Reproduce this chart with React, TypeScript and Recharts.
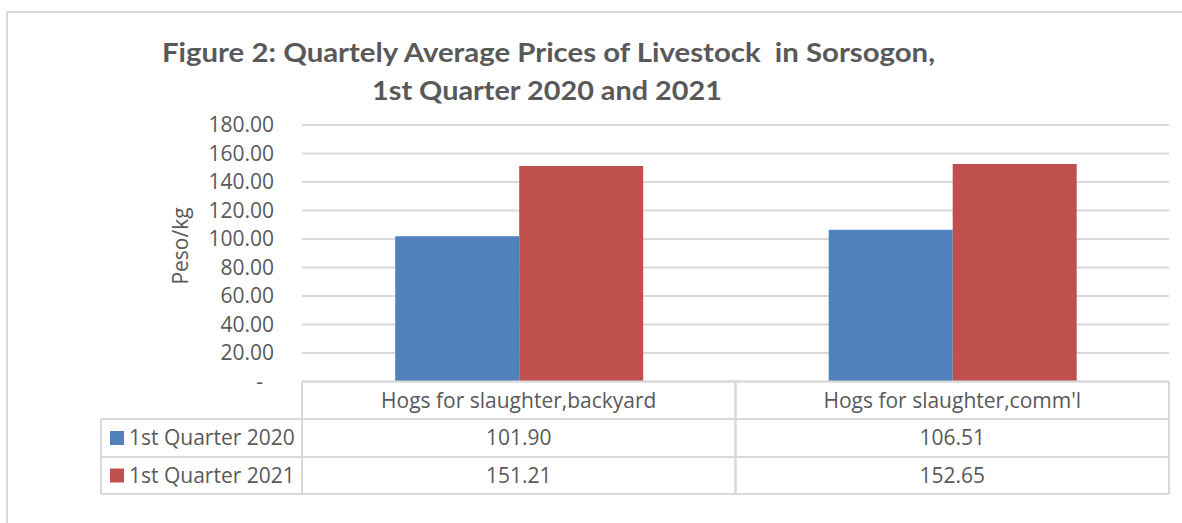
import React from 'react';
import { BarChart, Bar, XAxis, YAxis, CartesianGrid } from 'recharts';

const CATEGORIES = ['Hogs for slaughter,backyard', "Hogs for slaughter,comm'l"];
const Q1_2020 = [101.9, 106.51];
const Q1_2021 = [151.21, 152.65];
const SERIES_NAMES = ['1st Quarter 2020', '1st Quarter 2021'];
const Y_TICKS = [0, 20, 40, 60, 80, 100, 120, 140, 160, 180];

const TITLE_1 = 'Figure 2: Quartely Average Prices of Livestock  in Sorsogon,';
const TITLE_2 = '1st Quarter 2020 and 2021';

const W = 1182;
const H = 523;
const PLOT_LEFT = 302;
const PLOT_RIGHT = 1169;
const HALF_BAND = (PLOT_RIGHT - PLOT_LEFT) / CATEGORIES.length / 2;
const ROWS = [382, 419, 457, 494];
const LEGEND_LEFT = 101;

const TEXT = '#595959';
const LINE = '#d9d9d9';
const BLUE = '#4f81bd';
const RED = '#c0504d';
const FONT = '"Open Sans", sans-serif';
const FS = 21;

const data = CATEGORIES.map((name, i) => ({ name, q2020: Q1_2020[i], q2021: Q1_2021[i] }));

const YTick = (props: any) => {
  const { x, y, payload } = props;
  const zero = payload.value === 0;
  return (
    <text x={zero ? x - 11 : x} y={y} dy={7} textAnchor="end" fill={TEXT} fontSize={FS} fontFamily={FONT}>
      {zero ? '-' : Number(payload.value).toFixed(2)}
    </text>
  );
};

// the category axis doubles as the data table under the plot
const TableTick = (props: any) => {
  const { x, index, payload } = props;
  const left = x - HALF_BAND;
  const right = x + HALF_BAND;
  const mid = (a: number, b: number) => (a + b) / 2 + 7;
  const values = [Q1_2020[index], Q1_2021[index]];
  return (
    <g>
      <line x1={left} x2={left} y1={ROWS[0]} y2={ROWS[3]} stroke={LINE} strokeWidth={2} />
      <line x1={right} x2={right} y1={ROWS[0]} y2={ROWS[3]} stroke={LINE} strokeWidth={2} />
      {ROWS.slice(1).map((ry) => (
        <line key={ry} x1={left} x2={right} y1={ry} y2={ry} stroke={LINE} strokeWidth={2} />
      ))}
      <text x={x} y={mid(ROWS[0], ROWS[1])} textAnchor="middle" fill={TEXT} fontSize={FS} fontFamily={FONT}>
        {payload.value}
      </text>
      {values.map((v, r) => (
        <text key={r} x={x} y={mid(ROWS[r + 1], ROWS[r + 2])} textAnchor="middle" fill={TEXT} fontSize={FS} fontFamily={FONT}>
          {v.toFixed(2)}
        </text>
      ))}
      {index === 0 && (
        <g>
          <line x1={LEGEND_LEFT} x2={LEGEND_LEFT} y1={ROWS[1]} y2={ROWS[3]} stroke={LINE} strokeWidth={2} />
          {ROWS.slice(1).map((ry) => (
            <line key={ry} x1={LEGEND_LEFT} x2={left} y1={ry} y2={ry} stroke={LINE} strokeWidth={2} />
          ))}
          {SERIES_NAMES.map((s, r) => {
            const cy = (ROWS[r + 1] + ROWS[r + 2]) / 2;
            return (
              <g key={s}>
                <rect x={LEGEND_LEFT + 9} y={cy - 7} width={14} height={14} fill={r === 0 ? BLUE : RED} />
                <text x={LEGEND_LEFT + 28} y={cy + 7} fill={TEXT} fontSize={FS} fontFamily={FONT}>
                  {s}
                </text>
              </g>
            );
          })}
        </g>
      )}
    </g>
  );
};

const YLabel = () => (
  <text
    x={188}
    y={246}
    transform="rotate(-90 188 246)"
    textAnchor="middle"
    fill={TEXT}
    fontSize={FS}
    fontFamily={FONT}
  >
    Peso/kg
  </text>
);

export default function App() {
  return (
    <div style={{ position: 'absolute', left: 0, top: 0, width: W, height: H, background: '#fff', overflow: 'hidden' }}>
      <div style={{ position: 'absolute', left: 6, top: 11, width: W, height: H, border: `2px solid ${LINE}` }} />
      <svg width={W} height={130} style={{ position: 'absolute', left: 0, top: 0 }}>
        <text
          x={162}
          y={62}
          textLength={773}
          lengthAdjust="spacingAndGlyphs"
          fill={TEXT}
          fontSize={27}
          fontWeight="bold"
          fontFamily="Lato, sans-serif"
          style={{ whiteSpace: 'pre' }}
        >
          {TITLE_1}
        </text>
        <text
          x={372}
          y={100}
          textLength={350}
          lengthAdjust="spacingAndGlyphs"
          fill={TEXT}
          fontSize={27}
          fontWeight="bold"
          fontFamily="Lato, sans-serif"
        >
          {TITLE_2}
        </text>
      </svg>
      <div style={{ position: 'absolute', left: 0, top: 0 }}>
        <BarChart
          width={W}
          height={H}
          data={data}
          margin={{ top: 125, right: W - PLOT_RIGHT, bottom: 29.5, left: 0 }}
          barCategoryGap="21.5%"
          barGap={0}
        >
          <CartesianGrid vertical={false} stroke={LINE} strokeWidth={2} />
          <XAxis
            dataKey="name"
            height={112}
            interval={0}
            tickLine={false}
            axisLine={{ stroke: LINE, strokeWidth: 2 }}
            tick={<TableTick />}
          />
          <YAxis
            width={PLOT_LEFT}
            domain={[0, 180]}
            ticks={Y_TICKS}
            axisLine={false}
            tickLine={false}
            tickSize={0}
            tickMargin={28}
            tick={<YTick />}
            label={<YLabel />}
          />
          <Bar dataKey="q2020" name={SERIES_NAMES[0]} fill={BLUE} isAnimationActive={false} />
          <Bar dataKey="q2021" name={SERIES_NAMES[1]} fill={RED} isAnimationActive={false} />
        </BarChart>
      </div>
    </div>
  );
}
